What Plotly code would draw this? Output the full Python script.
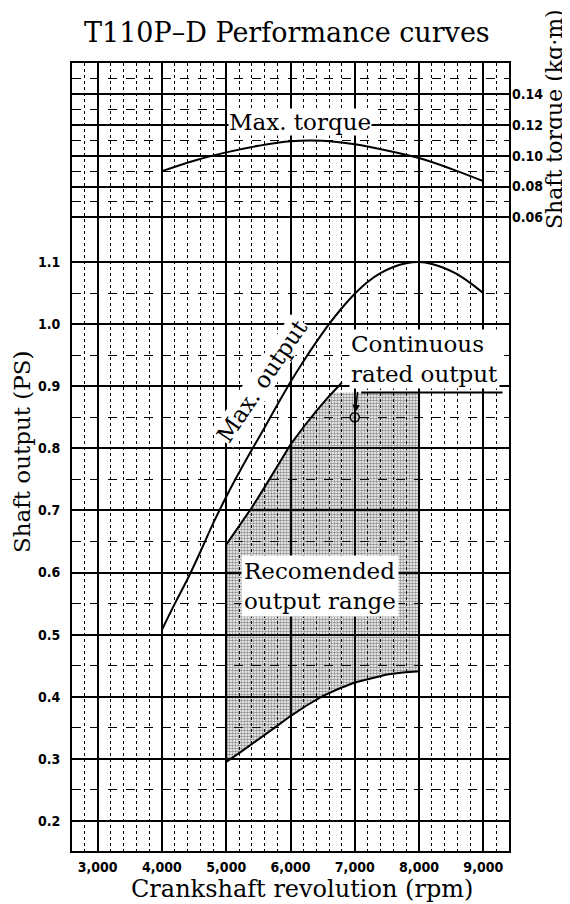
import plotly.graph_objects as go
import numpy as np

# ---------------- data ----------------
torque_rpm = [4000, 4500, 5000, 5500, 6000, 6500, 7000, 7500, 8000, 8500, 9000]
torque_kgm = [0.090, 0.0968, 0.1022, 0.1065, 0.1095, 0.1098, 0.1075, 0.1035, 0.0985, 0.0915, 0.0835]

max_out_rpm = [4000, 4200, 4400, 4600, 4800, 5000, 5200, 5400, 5600, 5800, 6000, 6200, 6400,
               6600, 6800, 7000, 7200, 7400, 7600, 7800, 8000, 8200, 8400, 8600, 8800, 9000]
max_out_ps = [0.508, 0.550, 0.590, 0.634, 0.680, 0.722, 0.761, 0.798, 0.834, 0.871, 0.907, 0.940, 0.971,
              1.000, 1.026, 1.049, 1.068, 1.082, 1.092, 1.098, 1.100, 1.097, 1.090, 1.080, 1.066, 1.050]

rated_rpm = [5000, 5200, 5400, 5600, 5800, 6000, 6200, 6400, 6600, 6800]
rated_ps = [0.645, 0.675, 0.705, 0.738, 0.772, 0.806, 0.834, 0.860, 0.884, 0.906]

rated_level_rpm = [7100, 9300]
rated_level_ps = [0.89, 0.89]

range_low_rpm = [5000, 5250, 5500, 5750, 6000, 6250, 6500, 6750, 7000, 7250, 7500, 7750, 8000]
range_low_ps = [0.295, 0.313, 0.331, 0.350, 0.369, 0.386, 0.401, 0.413, 0.423, 0.430, 0.436, 0.439, 0.441]
range_right_rpm = 8000

rated_point_rpm = [7000]
rated_point_ps = [0.85]

x_ticks = [3000, 4000, 5000, 6000, 7000, 8000, 9000]
x_ticklabels = ["3,000", "4,000", "5,000", "6,000", "7,000", "8,000", "9,000"]
ps_ticks = [0.2, 0.3, 0.4, 0.5, 0.6, 0.7, 0.8, 0.9, 1.0, 1.1]
ps_ticklabels = ["0.2", "0.3", "0.4", "0.5", "0.6", "0.7", "0.8", "0.9", "1.0", "1.1"]
ps_minor = [0.25, 0.35, 0.45, 0.55, 0.65, 0.75, 0.85, 0.95, 1.05]
tq_ticks = [0.06, 0.08, 0.10, 0.12, 0.14]
tq_ticklabels = ["0.06", "0.08", "0.10", "0.12", "0.14"]
tq_minor = [0.07, 0.09, 0.11, 0.13, 0.15]

# ---------------- layout constants ----------------
# The page body has an 8px margin, so the figure is drawn 8px in from the
# window's top-left corner; all positions below are given in window pixels.
OFF = 8
WIN_W, WIN_H = 570, 904
W, H = WIN_W - OFF, WIN_H - OFF
PLOT_L, PLOT_R, PLOT_T, PLOT_B = 72, 509, 63, 851      # window pixels
ML, MT = PLOT_L - OFF, PLOT_T - OFF
MR, MB = W - (PLOT_R - OFF), H - (PLOT_B - OFF)
PW, PH = PLOT_R - PLOT_L, PLOT_B - PLOT_T
X_RANGE = [2600, 9400]
PS_RANGE = [0.1517, 1.4205]
TQ_RANGE = [-0.3526, 0.1604]

SERIF = "DejaVu Serif"
TICKF = "Liberation Sans Narrow, DejaVu Sans Condensed, Liberation Sans, Arial"


def xp(px):
    return (px - PLOT_L) / PW


def yp(py):
    return (PLOT_B - py) / PH


fig = go.Figure()

# shaded recommended output range
top_level = rated_level_ps[0]
corner_rpm = float(np.interp(top_level, rated_ps, rated_rpm))
rated_in = [(r, p) for r, p in zip(rated_rpm, rated_ps) if p <= top_level]
shade_x = list(range_low_rpm) + [range_right_rpm, corner_rpm] + [r for r, _ in reversed(rated_in)]
shade_y = list(range_low_ps) + [top_level, top_level] + [p for _, p in reversed(rated_in)]
fig.add_trace(go.Scatter(
    x=shade_x, y=shade_y, mode="lines", fill="toself",
    line=dict(width=0, color="rgba(0,0,0,0)"),
    fillcolor="rgba(0,0,0,0)",
    fillpattern=dict(shape=".", fgcolor="#222222", bgcolor="rgba(0,0,0,0)", size=3, solidity=0.55),
    hoverinfo="skip", showlegend=False))

# boundary of the recommended range (left edge, lower curve, right edge)
bx = [range_low_rpm[0]] + list(range_low_rpm) + [range_right_rpm]
by = [rated_ps[0]] + list(range_low_ps) + [top_level]
fig.add_trace(go.Scatter(x=bx, y=by, mode="lines", line=dict(color="black", width=2),
                         showlegend=False, hoverinfo="skip"))
# continuous rated boundary
fig.add_trace(go.Scatter(x=rated_rpm, y=rated_ps, mode="lines", line=dict(color="black", width=2),
                         showlegend=False, hoverinfo="skip"))
fig.add_trace(go.Scatter(x=rated_level_rpm, y=rated_level_ps, mode="lines", line=dict(color="black", width=2),
                         showlegend=False, hoverinfo="skip"))
# max output
fig.add_trace(go.Scatter(x=max_out_rpm, y=max_out_ps, mode="lines", line=dict(color="black", width=2, shape="spline"),
                         showlegend=False, hoverinfo="skip"))
# rated point
fig.add_trace(go.Scatter(x=rated_point_rpm, y=rated_point_ps, mode="markers",
                         marker=dict(symbol="circle-open-dot", size=9, color="black", line=dict(width=1.5)),
                         showlegend=False, hoverinfo="skip"))
# torque
fig.add_trace(go.Scatter(x=torque_rpm, y=torque_kgm, yaxis="y2", mode="lines",
                         line=dict(color="black", width=2, shape="spline"),
                         showlegend=False, hoverinfo="skip"))

lab_font = dict(family=SERIF, size=23, color="black")
annotations = [
    dict(text="T110P\u2013D Performance curves", x=xp(287), y=yp(33), xref="paper", yref="paper",
         showarrow=False, font=dict(family=SERIF, size=27, color="black"), xanchor="center", yanchor="middle"),
    dict(text="Crankshaft revolution (rpm)", x=xp(302), y=yp(889), xref="paper", yref="paper",
         showarrow=False, font=dict(family=SERIF, size=24, color="black"), xanchor="center", yanchor="middle"),
    dict(text="Shaft output (PS)", x=xp(22), y=yp(452), xref="paper", yref="paper", textangle=-90,
         showarrow=False, font=dict(family=SERIF, size=23, color="black"), xanchor="center", yanchor="middle"),
    dict(text="Shaft torque (kg\u00b7m)", x=xp(554), y=yp(119), xref="paper", yref="paper", textangle=-90,
         showarrow=False, font=dict(family=SERIF, size=22, color="black"), xanchor="center", yanchor="middle"),
    dict(text="Max. torque", x=xp(300), y=yp(122), xref="paper", yref="paper",
         showarrow=False, font=lab_font, bgcolor="white", borderpad=0, xanchor="center", yanchor="middle"),
    dict(text="Max. output", x=xp(262), y=yp(381), xref="paper", yref="paper", textangle=-56,
         showarrow=False, font=lab_font, bgcolor="white", borderpad=0, xanchor="center", yanchor="middle"),
    dict(text="Continuous<br>rated output", x=xp(424), y=yp(359), xref="paper", yref="paper", align="left",
         showarrow=False, font=lab_font, bgcolor="white", borderpad=1, xanchor="center", yanchor="middle"),
    dict(text="Recomended<br>output range", x=xp(320), y=yp(586), xref="paper", yref="paper", align="left",
         showarrow=False, font=lab_font, bgcolor="white", borderpad=2, xanchor="center", yanchor="middle"),
    dict(text="", x=rated_point_rpm[0], y=rated_point_ps[0], xref="x", yref="y", showarrow=True,
         ax=3, ay=-27, arrowhead=2, arrowsize=1, arrowwidth=1.5, arrowcolor="black", standoff=5),
]

tick_font = dict(family=TICKF, size=14, color="black", weight="bold")

fig.update_layout(
    width=W, height=H,
    margin=dict(l=ML, r=MR, t=MT, b=MB, pad=0),
    paper_bgcolor="white", plot_bgcolor="white",
    showlegend=False,
    annotations=annotations,
    xaxis=dict(
        range=X_RANGE, tickvals=x_ticks, ticktext=x_ticklabels,
        showgrid=True, gridcolor="black", gridwidth=1.5,
        minor=dict(tick0=2600, dtick=200, showgrid=True, gridcolor="black", gridwidth=1, griddash="dot"),
        showline=True, linecolor="black", linewidth=2, mirror=True,
        ticks="", ticklabelstandoff=2, zeroline=False,
        tickfont=tick_font,
    ),
    yaxis=dict(
        range=PS_RANGE, tickvals=ps_ticks, ticktext=ps_ticklabels,
        showgrid=True, gridcolor="black", gridwidth=1.5,
        minor=dict(tickvals=ps_minor, showgrid=True, gridcolor="black", gridwidth=1, griddash="dash"),
        showline=True, linecolor="black", linewidth=2, mirror=True,
        ticks="", ticklabelstandoff=7, zeroline=False,
        tickfont=tick_font,
    ),
    yaxis2=dict(
        range=TQ_RANGE, overlaying="y", side="right", tickvals=tq_ticks, ticktext=tq_ticklabels,
        showgrid=True, gridcolor="black", gridwidth=1.5,
        minor=dict(tickvals=tq_minor, showgrid=True, gridcolor="black", gridwidth=1, griddash="dash"),
        showline=False, ticks="", ticklabelstandoff=2, zeroline=False,
        tickfont=tick_font,
    ),
)

fig.write_html("out.html")
